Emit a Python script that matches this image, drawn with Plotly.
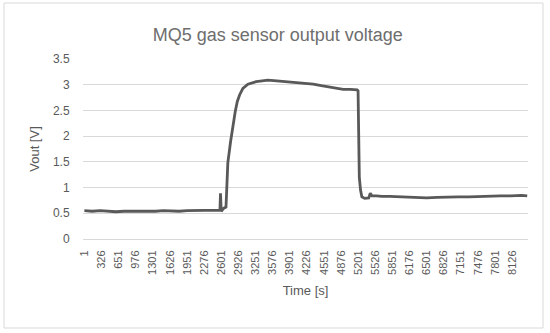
import plotly.graph_objects as go

# Time [s] and output voltage [V]
time_s = [1, 150, 300, 450, 600, 750, 900, 1050, 1200, 1350, 1500, 1650, 1800, 1950,
          2100, 2250, 2400, 2500, 2575, 2586, 2600, 2650, 2690, 2700, 2714, 2725, 2777,
          2820, 2866, 2904, 2948, 3011, 3106, 3265, 3486, 3600, 3712,
          3850, 4030, 4200, 4346, 4500, 4663, 4800, 4916, 5050, 5180, 5198, 5208, 5222,
          5245, 5270, 5324, 5400, 5430, 5460, 5550, 5650, 5800, 6000, 6200, 6400, 6500,
          6700, 6900, 7100, 7300, 7500, 7700, 7900, 8100, 8300, 8410]
vout = [0.55, 0.54, 0.55, 0.54, 0.53, 0.54, 0.54, 0.53, 0.54, 0.54, 0.55, 0.54, 0.54, 0.55,
        0.55, 0.55, 0.56, 0.56, 0.56, 0.89, 0.54, 0.60, 0.62, 0.86, 1.24, 1.48, 1.89,
        2.22, 2.48, 2.67, 2.80, 2.93, 3.01, 3.06, 3.09, 3.08, 3.07,
        3.06, 3.04, 3.02, 3.01, 2.98, 2.95, 2.92, 2.91, 2.91, 2.90, 2.88, 2.00, 1.20,
        0.95, 0.82, 0.79, 0.80, 0.89, 0.84, 0.84, 0.83, 0.83, 0.82, 0.81, 0.80, 0.80,
        0.81, 0.82, 0.82, 0.82, 0.83, 0.83, 0.84, 0.84, 0.85, 0.84]

tick_vals = list(range(1, 8127, 325))
tick_text = [str(v) for v in tick_vals]
y_ticks = [0, 0.5, 1, 1.5, 2, 2.5, 3, 3.5]
y_tick_text = ["0", "0.5", "1", "1.5", "2", "2.5", "3", "3.5"]

fig = go.Figure()
fig.add_trace(go.Scatter(x=time_s, y=vout, mode="lines",
                         line=dict(color="#595959", width=2.8), showlegend=False))

font_family = "Liberation Sans, Arial, sans-serif"
fig.update_layout(
    width=550, height=333,
    margin=dict(l=83, r=22, t=59, b=94),
    paper_bgcolor="white", plot_bgcolor="white",
    title=dict(text="MQ5 gas sensor output voltage", x=0.505, xanchor="center",
               y=0.895, yanchor="middle",
               font=dict(family=font_family, size=18, color="#6e6e6e")),
    font=dict(family=font_family, color="#595959"),
    xaxis=dict(range=[-25, 8425], tickmode="array", tickvals=tick_vals, ticktext=tick_text,
               tickangle=-90, showgrid=False, showline=True, linecolor="#d9d9d9",
               ticks="outside", ticklen=6, tickcolor="rgba(0,0,0,0)",
               tickfont=dict(size=11, color="#595959"), zeroline=False,
               title=dict(text="Time [s]", font=dict(size=13, color="#595959"), standoff=12)),
    yaxis=dict(range=[0, 3.5], tickmode="array", tickvals=y_ticks, ticktext=y_tick_text,
               showgrid=True, gridcolor="#d9d9d9", gridwidth=1, zeroline=False,
               showline=False, ticks="outside", ticklen=10, tickcolor="rgba(0,0,0,0)",
               tickfont=dict(size=12, color="#595959"),
               title=dict(text="Vout [V]", font=dict(size=13, color="#595959"), standoff=10)),
    shapes=[dict(type="rect", xref="paper", yref="paper",
                 x0=(4 - 83) / 445, x1=(543 - 83) / 445,
                 y0=(239 - 328) / 180, y1=(239 - 3) / 180,
                 line=dict(color="#d9d9d9", width=1), fillcolor="rgba(0,0,0,0)", layer="below")],
)

fig.write_html("out.html", config={"displayModeBar": False},
               post_script="document.body.style.margin='0';")
